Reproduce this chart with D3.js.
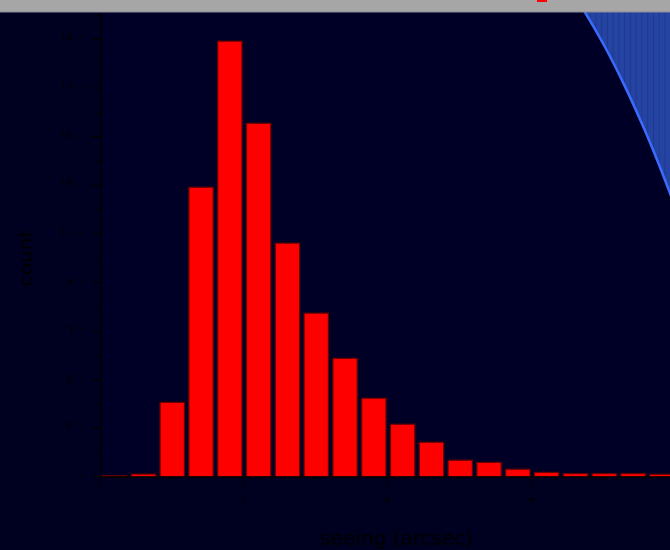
<!DOCTYPE html>
<html>
<head>
<meta charset="utf-8">
<script src="https://cdn.jsdelivr.net/npm/d3@7"></script>
<style>
  html, body { margin: 0; padding: 0; background: #000020; overflow: hidden; }
  svg { display: block; }
</style>
</head>
<body>
<svg id="chart" width="670" height="550"></svg>
<script>
// Histogram of seeing measurements (bin width 0.2 arcsec)
const binStarts = [0.0, 0.2, 0.4, 0.6, 0.8, 1.0, 1.2, 1.4, 1.6, 1.8, 2.0, 2.2, 2.4, 2.6, 2.8, 3.0, 3.2, 3.4, 3.6, 3.8];
const counts    = [5, 12, 307, 1192, 1793, 1455, 962, 674, 488, 324, 217, 143, 69, 60, 32, 19, 14, 14, 14, 11];
const binWidth = 0.2;

// Overlay curve (filled above the line)
const curveX = [3.264, 3.368, 3.507, 3.646, 3.785, 3.889, 3.993];
const curveY = [2007, 1912, 1769, 1606, 1424, 1274, 1113];

const yMajorTicks = [0, 200, 400, 600, 800, 1000, 1200, 1400, 1600, 1800];
const yMinorTicks = [100, 300, 500, 700, 900, 1100, 1300, 1500, 1700, 1900];
const xMajorTicks = [0, 1, 2, 3, 4];
const xLabelTicks = [0, 1, 2, 3];
const xMinorTicks = [0.5, 1.5, 2.5, 3.5];

const xTitle = "seeing (arcsec)";
const yTitle = "count";

// Arabic-Indic numerals, no grouping
const locale = d3.formatLocale({
  decimal: "٫", thousands: "", grouping: [3], currency: ["", ""],
  numerals: ["٠","١","٢","٣","٤","٥","٦","٧","٨","٩"]
});
const fmt = locale.format("d");

const W = 670, H = 550;
const plot = { left: 101, top: 12, right: 670, bottom: 477 };

const svg = d3.select("#chart");

const x = d3.scaleLinear().domain([0, 4]).range([100, 676]);
const y = d3.scaleLinear().domain([0, 1913]).range([477, 12]);

// backgrounds
svg.append("rect").attr("x", 0).attr("y", 0).attr("width", W).attr("height", H).attr("fill", "#000020");
svg.append("rect").attr("x", plot.left).attr("y", plot.top)
  .attr("width", plot.right - plot.left).attr("height", plot.bottom - plot.top)
  .attr("fill", "#000026");

const defs = svg.append("defs");
defs.append("clipPath").attr("id", "plotClip").append("rect")
  .attr("x", plot.left).attr("y", plot.top)
  .attr("width", plot.right - plot.left).attr("height", plot.bottom - plot.top);

const stripe = defs.append("pattern").attr("id", "stripes")
  .attr("patternUnits", "userSpaceOnUse").attr("width", 5.76).attr("height", 10)
  .attr("x", x(0));
stripe.append("rect").attr("width", 5.76).attr("height", 10).attr("fill", "#2443a2");
stripe.append("rect").attr("x", 0).attr("width", 0.8).attr("height", 10).attr("fill", "#1c3688");

const g = svg.append("g").attr("clip-path", "url(#plotClip)");

// filled region above the curve
const pts = curveX.map((v, i) => [v, curveY[i]]);
const area = d3.area()
  .x(d => x(d[0]))
  .y0(d => y(d[1]))
  .y1(() => plot.top - 20)
  .curve(d3.curveCatmullRom);
g.append("path").datum(pts).attr("d", area).attr("fill", "url(#stripes)");
g.append("path").datum(pts)
  .attr("d", d3.line().x(d => x(d[0])).y(d => y(d[1])).curve(d3.curveCatmullRom))
  .attr("fill", "none").attr("stroke", "#3a6cff").attr("stroke-width", 2.5);

// histogram bars
const bars = binStarts.map((b, i) => ({ x0: b, x1: b + binWidth, v: counts[i] }));
g.selectAll("rect.bar").data(bars).enter().append("rect")
  .attr("class", "bar")
  .attr("x", d => x(d.x0) + 2.5)
  .attr("width", d => x(d.x1) - x(d.x0) - 4.5)
  .attr("y", d => y(d.v))
  .attr("height", d => y(0) - y(d.v))
  .attr("fill", "#ff0000")
  .attr("stroke", "#6a0000")
  .attr("stroke-width", 1.2);

// axes
const axisColor = "#000000";
const ax = svg.append("g");

// y axis
ax.append("line").attr("x1", plot.left).attr("x2", plot.left)
  .attr("y1", plot.top).attr("y2", plot.bottom + 1)
  .attr("stroke", axisColor).attr("stroke-width", 1.5);
ax.selectAll("line.ymaj").data(yMajorTicks).enter().append("line")
  .attr("x1", plot.left - 9).attr("x2", plot.left)
  .attr("y1", d => y(d)).attr("y2", d => y(d))
  .attr("stroke", axisColor).attr("stroke-width", 1.2);
ax.selectAll("line.ymin").data(yMinorTicks).enter().append("line")
  .attr("x1", plot.left - 4).attr("x2", plot.left)
  .attr("y1", d => y(d)).attr("y2", d => y(d))
  .attr("stroke", axisColor).attr("stroke-width", 1.2);
ax.selectAll("text.ylab").data(yMajorTicks).enter().append("text")
  .attr("x", 86).attr("y", d => y(d) + 2)
  .attr("text-anchor", "end")
  .attr("font-family", "DejaVu Sans").attr("font-size", 12)
  .attr("fill", axisColor)
  .text(d => fmt(d));

// x axis
ax.append("line").attr("x1", 100).attr("x2", W)
  .attr("y1", plot.bottom).attr("y2", plot.bottom)
  .attr("stroke", axisColor).attr("stroke-width", 1.5);
ax.selectAll("line.xmaj").data(xMajorTicks).enter().append("line")
  .attr("x1", d => x(d)).attr("x2", d => x(d))
  .attr("y1", plot.bottom).attr("y2", plot.bottom + 9)
  .attr("stroke", axisColor).attr("stroke-width", 1.2);
ax.selectAll("line.xmin").data(xMinorTicks).enter().append("line")
  .attr("x1", d => x(d)).attr("x2", d => x(d))
  .attr("y1", plot.bottom).attr("y2", plot.bottom + 5)
  .attr("stroke", axisColor).attr("stroke-width", 1.2);
ax.selectAll("text.xlab").data(xLabelTicks).enter().append("text")
  .attr("x", d => x(d)).attr("y", 505)
  .attr("text-anchor", "middle")
  .attr("font-family", "DejaVu Sans").attr("font-size", 12)
  .attr("fill", axisColor)
  .text(d => fmt(d));

// titles
svg.append("text").attr("x", 397).attr("y", 545)
  .attr("text-anchor", "middle")
  .attr("font-family", "DejaVu Sans").attr("font-size", 20)
  .attr("fill", axisColor).text(xTitle);
svg.append("text")
  .attr("transform", "translate(33,258) rotate(-90)")
  .attr("text-anchor", "middle")
  .attr("font-family", "DejaVu Sans").attr("font-size", 20)
  .attr("fill", axisColor).text(yTitle);

// top band with legend swatch
svg.append("rect").attr("x", 0).attr("y", 0).attr("width", W).attr("height", 12).attr("fill", "#a6a6a6");
svg.append("line").attr("x1", 0).attr("x2", W).attr("y1", 12).attr("y2", 12)
  .attr("stroke", "#8a8a9a").attr("stroke-width", 1);
svg.append("rect").attr("x", 537).attr("y", -8).attr("width", 10).attr("height", 10).attr("fill", "#ff0000");
</script>
</body>
</html>
